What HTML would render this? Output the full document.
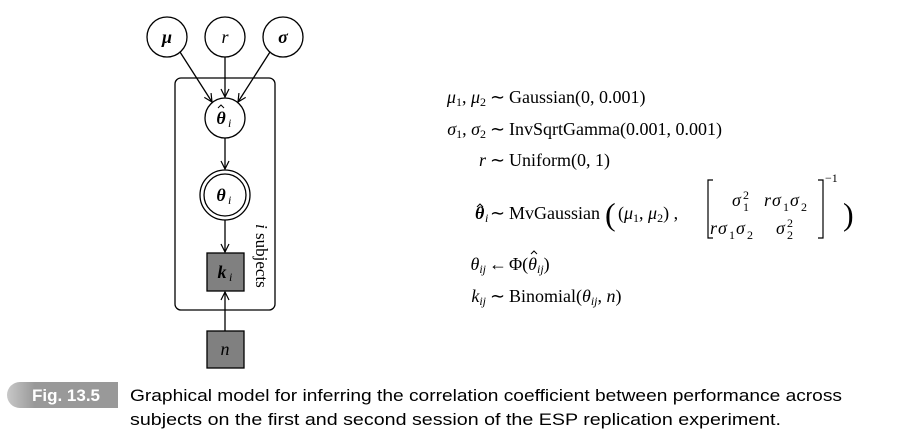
<!DOCTYPE html>
<html><head><meta charset="utf-8"><style>
html,body{margin:0;padding:0;background:#fff;}
svg{display:block;}
.m{font-family:"Liberation Serif",serif;font-size:18px;fill:#000;}
.i{font-style:italic;}
.b{font-weight:bold;font-style:italic;}
.c{font-family:"Liberation Sans",sans-serif;font-size:17px;fill:#000;}
</style></head><body>
<svg width="917" height="438" viewBox="0 0 917 438">
<defs>
<marker id="ar" markerWidth="10" markerHeight="10" refX="9" refY="5" orient="auto" markerUnits="userSpaceOnUse">
<path d="M1,1 L9,5 L1,9" fill="none" stroke="#000" stroke-width="1.2"/>
</marker>
<linearGradient id="lg" x1="0" x2="1"><stop offset="0" stop-color="#c8c8c8"/><stop offset="0.25" stop-color="#999"/><stop offset="1" stop-color="#999"/></linearGradient>
</defs>
<g stroke="#000" stroke-width="1.3" fill="none">
<rect x="175" y="78" width="100" height="232" rx="6"/>
<circle cx="167" cy="37" r="20" fill="#fff"/>
<circle cx="225" cy="37" r="20" fill="#fff"/>
<circle cx="283" cy="37" r="20" fill="#fff"/>
<circle cx="225" cy="118" r="20" fill="#fff"/>
<circle cx="225" cy="195" r="25" fill="#fff"/>
<circle cx="225" cy="195" r="21"/>
<rect x="207" y="253" width="37" height="38" fill="#808080"/>
<rect x="207" y="331" width="37" height="37" fill="#808080"/>
<line x1="180" y1="52" x2="212" y2="102" marker-end="url(#ar)"/>
<line x1="225" y1="57" x2="225" y2="97" marker-end="url(#ar)"/>
<line x1="270" y1="52" x2="238" y2="102" marker-end="url(#ar)"/>
<line x1="225" y1="138" x2="225" y2="169" marker-end="url(#ar)"/>
<line x1="225" y1="220" x2="225" y2="252" marker-end="url(#ar)"/>
<line x1="225" y1="331" x2="225" y2="292" marker-end="url(#ar)"/>
<path d="M218,108 l3,-3 l3,3 M477,207 l3,-3 l3,3 M531,254 l3,-3 l3,3" stroke-width="1"/>
</g>
<g class="m">
<text x="167" y="43" text-anchor="middle" class="b">μ</text>
<text x="225" y="43" text-anchor="middle" class="i">r</text>
<text x="283" y="43" text-anchor="middle" class="b">σ</text>
<text x="221" y="124" text-anchor="middle" class="b">θ</text><text x="228" y="127" font-size="12" class="i">i</text>
<text x="221" y="201" text-anchor="middle" class="b">θ</text><text x="228" y="204" font-size="12" class="i">i</text>
<text x="222" y="278" text-anchor="middle" class="b">k</text><text x="229" y="281" font-size="12" class="i">i</text>
<text x="225" y="355" text-anchor="middle" class="i">n</text>
<text transform="translate(256,224) rotate(90)" font-size="17"><tspan class="i">i</tspan> subjects</text>
</g>
<g class="m">
<text x="486" y="103" text-anchor="end"><tspan class="i">μ</tspan><tspan font-size="12" dy="3">1</tspan><tspan dy="-3">, </tspan><tspan class="i">μ</tspan><tspan font-size="12" dy="3">2</tspan></text>
<text x="490" y="103">∼</text><text x="509" y="103">Gaussian(0, 0.001)</text>
<text x="486" y="135" text-anchor="end"><tspan class="i">σ</tspan><tspan font-size="12" dy="3">1</tspan><tspan dy="-3">, </tspan><tspan class="i">σ</tspan><tspan font-size="12" dy="3">2</tspan></text>
<text x="490" y="135">∼</text><text x="509" y="135">InvSqrtGamma(0.001, 0.001)</text>
<text x="486" y="166" text-anchor="end" class="i">r</text>
<text x="490" y="166">∼</text><text x="509" y="166">Uniform(0, 1)</text>
<text x="475" y="219" class="b">θ</text><text x="485" y="222" font-size="12" class="i">i</text>
<text x="490" y="219">∼</text><text x="509" y="219">MvGaussian</text>
<text x="605" y="225" font-size="32">(</text>
<text x="618" y="219">(<tspan class="i">μ</tspan><tspan font-size="12" dy="3">1</tspan><tspan dy="-3">, </tspan><tspan class="i">μ</tspan><tspan font-size="12" dy="3">2</tspan><tspan dy="-3">) ,</tspan></text>
<path d="M713,180 h-5 v58 h5 M818,180 h5 v58 h-5" stroke="#000" stroke-width="1.2" fill="none"/>
<text x="732" y="206" class="i">σ</text><text x="743" y="211" font-size="12">1</text><text x="743" y="199" font-size="12">2</text>
<text x="764" y="206" class="i">r</text><text x="772" y="206" class="i">σ</text><text x="783" y="211" font-size="12">1</text><text x="790" y="206" class="i">σ</text><text x="801" y="211" font-size="12">2</text>
<text x="710" y="234" class="i">r</text><text x="718" y="234" class="i">σ</text><text x="729" y="239" font-size="12">1</text><text x="736" y="234" class="i">σ</text><text x="747" y="239" font-size="12">2</text>
<text x="776" y="234" class="i">σ</text><text x="787" y="239" font-size="12">2</text><text x="787" y="227" font-size="12">2</text>
<text x="825" y="182" font-size="12">−1</text>
<text x="843" y="225" font-size="32">)</text>
<text x="486" y="270" text-anchor="end"><tspan class="i">θ</tspan><tspan font-size="12" dy="3" class="i">ij</tspan></text>
<text x="489" y="270">←</text><text x="509" y="270">Φ(<tspan class="i">θ</tspan><tspan font-size="12" dy="3" class="i">ij</tspan><tspan dy="-3">)</tspan></text>
<text x="486" y="302" text-anchor="end"><tspan class="i">k</tspan><tspan font-size="12" dy="3" class="i">ij</tspan></text>
<text x="490" y="302">∼</text><text x="509" y="302">Binomial(<tspan class="i">θ</tspan><tspan font-size="12" dy="3" class="i">ij</tspan><tspan dy="-3">, </tspan><tspan class="i">n</tspan>)</text>
</g>
<g>
<path d="M20,382 H118 V408 H20 A13,13 0 0 1 20,382 Z" fill="url(#lg)"/>
<text x="66" y="401" text-anchor="middle" font-family="Liberation Sans,sans-serif" font-size="17" font-weight="bold" fill="#fff">Fig. 13.5</text>
<text class="c" x="130" y="401" textLength="712" lengthAdjust="spacingAndGlyphs">Graphical model for inferring the correlation coefficient between performance across</text>
<text class="c" x="130" y="425" textLength="651" lengthAdjust="spacingAndGlyphs">subjects on the first and second session of the ESP replication experiment.</text>
</g>
</svg>
</body></html>
